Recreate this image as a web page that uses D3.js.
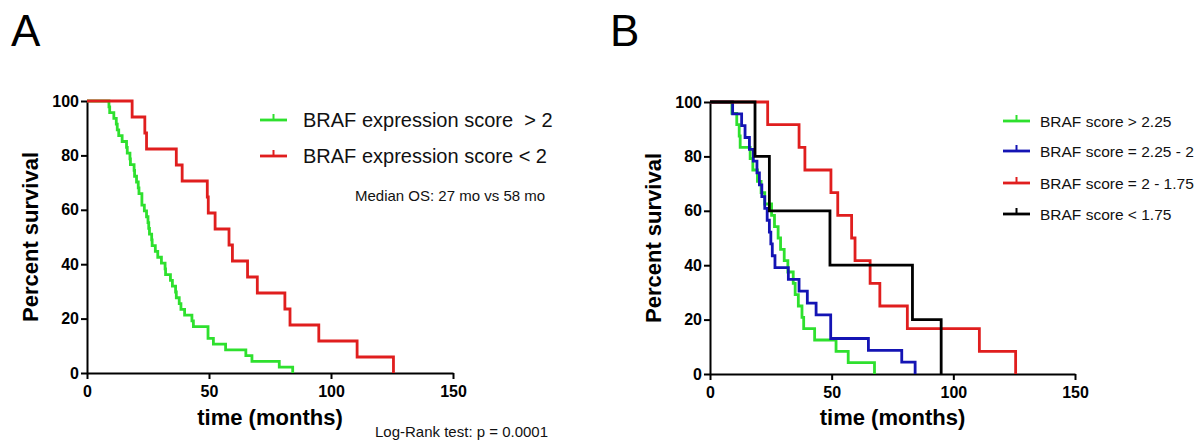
<!DOCTYPE html>
<html>
<head>
<meta charset="utf-8">
<script src="https://cdn.jsdelivr.net/npm/d3@7"></script>
<style>
  body { margin: 0; background: #fff; }
  text { font-family: "Liberation Sans", Arial, sans-serif; }
</style>
</head>
<body>
<script>
// event times (months), one array per score group
var greenTimes = [9.0, 11.0, 12.0, 12.4, 16.5, 17.6, 19.5, 21.0, 22.5, 25.3, 26.5, 28.0,
                  29.0, 30.5, 32.0, 34.2, 35.0, 36.3, 37.8, 38.5, 43.0, 51.8, 56.8, 67.6];
var blueTimes = [9.3, 13.0, 14.4, 16.2, 17.8, 19.3, 20.3, 21.3, 22.5, 23.5, 24.4, 25.0,
                 25.6, 26.7, 32.2, 36.6, 40.0, 43.6, 49.6, 49.6, 65.1, 78.8, 84.3];
var redTimes = [23.7, 36.6, 39.0, 49.7, 52.5, 58.2, 59.6, 65.8, 69.8, 81.1, 110.7, 125.6];
var blackTimes = [18.5, 24.4, 49.3, 83.2, 95.0];

// panel A groups are the pooled panel B groups
var highTimes = greenTimes.concat(blueTimes);   // score > 2
var lowTimes = redTimes.concat(blackTimes);     // score < 2

var xTicks = [0, 50, 100, 150];
var yTicks = [0, 20, 40, 60, 80, 100];

var legendA = ['BRAF expression score  > 2', 'BRAF expression score < 2'];
var legendB = ['BRAF score > 2.25', 'BRAF score = 2.25 - 2', 'BRAF score = 2 - 1.75', 'BRAF score < 1.75'];

var green = '#2ee02e', blue = '#1414b4', red = '#e01e1e', black = '#000000';

var W = 1202, H = 443;
var svg = d3.select('body').append('svg').attr('width', W).attr('height', H);

// Kaplan-Meier steps, no censoring
function km(times) {
    var t = times.slice().sort(function(a, b) { return a - b; });
    var n = t.length;
    var pts = [[0, 100]];
    t.forEach(function(d, i) { pts.push([d, 100 * (n - i - 1) / n]); });
    return pts;
}

function panel(opt) {
    var x = d3.scaleLinear().domain([0, 150]).range([opt.x0, opt.x1]);
    var y = d3.scaleLinear().domain([0, 100]).range([opt.y0, opt.y1]);
    var g = svg.append('g');

    g.append('text').attr('x', opt.letterX).attr('y', 46)
        .style('font-size', '44px').text(opt.letter);

    // axes
    var xAxis = g.append('g').attr('transform', 'translate(0,' + opt.y0 + ')')
        .call(d3.axisBottom(x).tickValues(xTicks).tickSize(6).tickPadding(4).tickSizeOuter(0));
    var yAxis = g.append('g').attr('transform', 'translate(' + opt.x0 + ',0)')
        .call(d3.axisLeft(y).tickValues(yTicks).tickSize(6).tickPadding(2).tickSizeOuter(0));
    [xAxis, yAxis].forEach(function(a) {
        a.select('.domain').attr('stroke', '#000').attr('stroke-width', 2);
        a.selectAll('.tick line').attr('stroke', '#000').attr('stroke-width', 2);
        a.selectAll('.tick text').attr('fill', '#000')
            .style('font-size', '16px').style('font-weight', 'bold');
    });
    xAxis.selectAll('.tick text').attr('dy', '0.9em');

    g.append('text').attr('x', (opt.x0 + opt.x1) / 2).attr('y', 425)
        .attr('text-anchor', 'middle').style('font-size', '22px').style('font-weight', 'bold')
        .text('time (months)');
    g.append('text').attr('transform', 'translate(' + (opt.x0 - 49) + ',' + ((opt.y0 + opt.y1) / 2) + ') rotate(-90)')
        .attr('text-anchor', 'middle').style('font-size', '22px').style('font-weight', 'bold')
        .text('Percent survival');

    var line = d3.line().x(function(d) { return x(d[0]); }).y(function(d) { return y(d[1]); })
        .curve(d3.curveStepAfter);
    opt.series.forEach(function(s) {
        g.append('path').datum(km(s.times))
            .attr('d', line).attr('fill', 'none')
            .attr('stroke', s.color).attr('stroke-width', 2.8);
    });

    // legend: line with a small censor tick
    var lg = g.selectAll('.leg').data(opt.legend).enter().append('g')
        .attr('transform', function(d, i) { return 'translate(' + opt.legX + ',' + opt.legY[i] + ')'; });
    lg.append('line').attr('x1', 0).attr('x2', opt.legLen).attr('y1', 0).attr('y2', 0)
        .attr('stroke', function(d, i) { return opt.legColors[i]; }).attr('stroke-width', 2.8);
    lg.append('line').attr('x1', opt.legLen / 2).attr('x2', opt.legLen / 2).attr('y1', 0).attr('y2', -6)
        .attr('stroke', function(d, i) { return opt.legColors[i]; }).attr('stroke-width', 2);
    lg.append('text').attr('x', opt.legTextX).attr('dy', '0.36em')
        .style('font-size', opt.legFont).style('white-space', 'pre').attr('fill', '#111')
        .text(function(d) { return d; });
    return g;
}

var gA = panel({
    letter: 'A', letterX: 11,
    x0: 87, x1: 453, y0: 373, y1: 101,
    series: [{times: highTimes, color: green}, {times: lowTimes, color: red}],
    legend: legendA, legColors: [green, red],
    legX: 260, legY: [120, 156], legLen: 27, legTextX: 43, legFont: '20px'
});
gA.append('text').attr('x', 355).attr('y', 201).style('font-size', '15px').attr('fill', '#111')
    .text('Median OS: 27 mo vs 58 mo');
gA.append('text').attr('x', 375).attr('y', 437).style('font-size', '15px').attr('fill', '#111')
    .text('Log-Rank test: p = 0.0001');

panel({
    letter: 'B', letterX: 610,
    x0: 710, x1: 1075, y0: 374, y1: 102,
    series: [{times: greenTimes, color: green}, {times: blueTimes, color: blue},
             {times: redTimes, color: red}, {times: blackTimes, color: black}],
    legend: legendB, legColors: [green, blue, red, black],
    legX: 1003, legY: [121, 151, 183, 214], legLen: 27, legTextX: 37, legFont: '15.5px'
});
</script>
</body>
</html>
